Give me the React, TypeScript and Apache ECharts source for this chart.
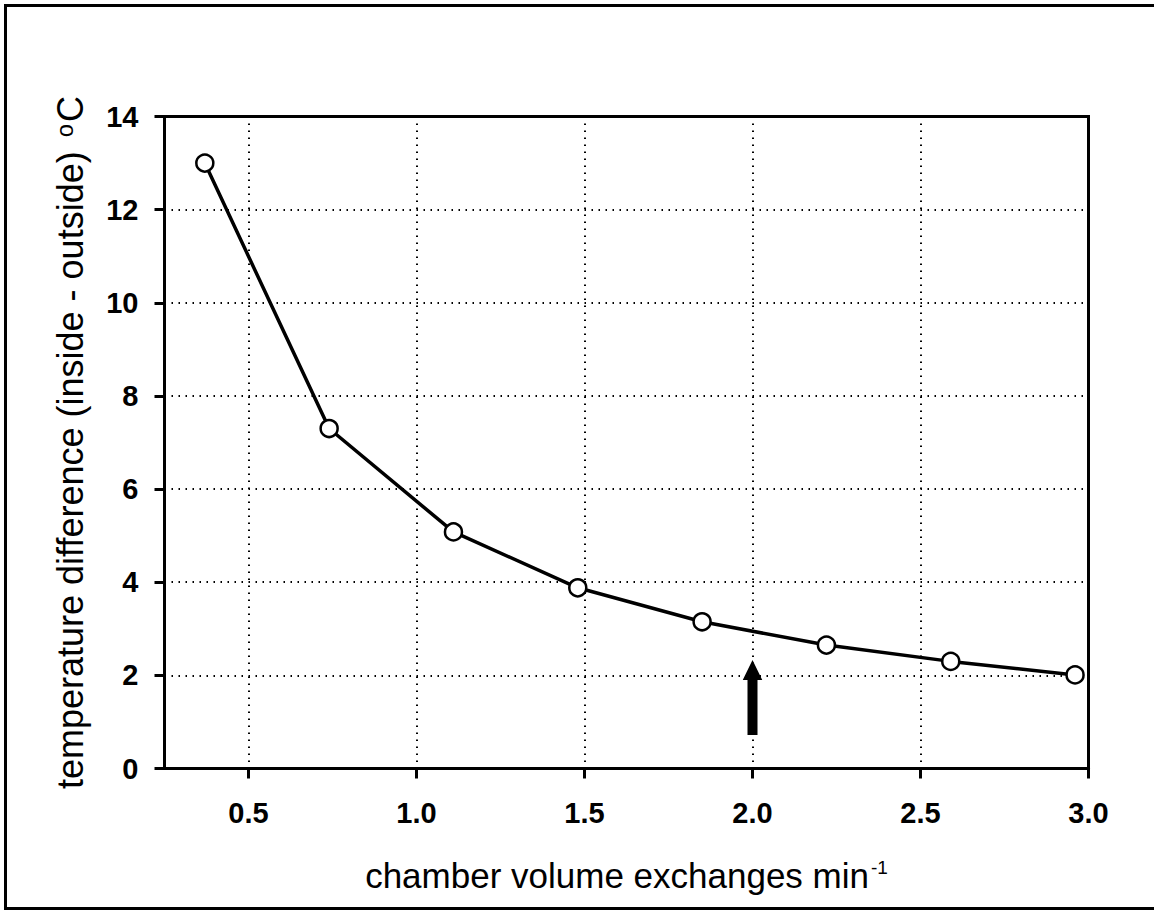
import React, { useEffect, useRef } from "react";
import * as echarts from "echarts";

const xValues = [0.37, 0.74, 1.11, 1.48, 1.85, 2.22, 2.59, 2.96];
const yValues = [13.0, 7.3, 5.08, 3.88, 3.15, 2.65, 2.3, 2.01];
const xTicks = [0.5, 1.0, 1.5, 2.0, 2.5, 3.0];
const yTicks = [0, 2, 4, 6, 8, 10, 12, 14];
// arrow: x position, base value, tip value
const arrowData = [[2.0, 0.72, 2.33]];

const FONT = "'Liberation Sans', Arial, Helvetica, sans-serif";

export default function App() {
  const ref = useRef<HTMLDivElement>(null);
  useEffect(() => {
    document.body.style.margin = "0";
    const chart = echarts.init(ref.current!, null, { renderer: "svg" });
    const option: any = {
      animation: false,
      backgroundColor: "#fff",
      grid: {
        left: 164.5,
        top: 116.5,
        width: 924,
        height: 652,
        show: true,
        borderColor: "#000",
        borderWidth: 3,
        containLabel: false,
      },
      graphic: [
        {
          type: "rect",
          shape: { x: 5.5, y: 5.5, width: 1170, height: 903 },
          style: { fill: "none", stroke: "#000", lineWidth: 3 },
          z: 100,
        },
      ],
      xAxis: {
        type: "value",
        min: 0.25,
        max: 3.0,
        name: "chamber volume exchanges min{sup|-1}",
        nameLocation: "middle",
        nameGap: 89,
        nameTextStyle: {
          fontSize: 35,
          fontFamily: FONT,
          color: "#000",
          rich: {
            sup: { fontSize: 19, fontFamily: FONT, color: "#000", verticalAlign: "top", padding: [0, 0, 0, 2] },
          },
        },
        axisLine: { show: true, lineStyle: { color: "#000", width: 3 } },
        axisTick: {
          show: true,
          inside: false,
          length: 10,
          customValues: xTicks,
          lineStyle: { color: "#000", width: 3 },
        },
        axisLabel: {
          customValues: xTicks,
          margin: 30,
          fontSize: 29,
          fontWeight: "bold",
          fontFamily: FONT,
          color: "#000",
          formatter: (v: number) => v.toFixed(1),
        },
        splitLine: {
          show: true,
          lineStyle: { color: "#000", width: 2, type: [1.5, 5.5] },
        },
      },
      yAxis: {
        type: "value",
        min: 0,
        max: 14,
        interval: 2,
        name: "temperature difference (inside - outside) {sup|o}C",
        nameLocation: "middle",
        nameGap: 76,
        nameTextStyle: {
          fontSize: 36,
          fontFamily: FONT,
          color: "#000",
          rich: {
            sup: { fontSize: 24, fontFamily: FONT, color: "#000", verticalAlign: "top", padding: [0, 2, 0, 4] },
          },
        },
        axisLine: { show: true, lineStyle: { color: "#000", width: 3 } },
        axisTick: {
          show: true,
          inside: false,
          length: 10,
          lineStyle: { color: "#000", width: 3 },
        },
        axisLabel: {
          margin: 26,
          fontSize: 29,
          fontWeight: "bold",
          fontFamily: FONT,
          color: "#000",
          formatter: (v: number) => (yTicks.includes(v) ? String(v) : ""),
        },
        splitLine: {
          show: true,
          lineStyle: { color: "#000", width: 2, type: [1.5, 5.5] },
        },
      },
      series: [
        {
          type: "line",
          data: xValues.map((x, i) => [x, yValues[i]]),
          symbol: "circle",
          symbolSize: 17,
          showAllSymbol: true,
          lineStyle: { color: "#000", width: 3.5 },
          itemStyle: { color: "#fff", borderColor: "#000", borderWidth: 2.5 },
          z: 5,
        },
        {
          type: "custom",
          data: arrowData,
          z: 4,
          clip: false,
          renderItem: (params: any, api: any) => {
            const x = api.value(0);
            const base = api.coord([x, api.value(1)]);
            const tip = api.coord([x, api.value(2)]);
            const cx = base[0];
            const headH = 20;
            const headW = 19.5;
            const shaftW = 10;
            const hb = tip[1] + headH;
            return {
              type: "polygon",
              shape: {
                points: [
                  [cx - shaftW / 2, base[1]],
                  [cx - shaftW / 2, hb],
                  [cx - headW / 2, hb],
                  [cx, tip[1]],
                  [cx + headW / 2, hb],
                  [cx + shaftW / 2, hb],
                  [cx + shaftW / 2, base[1]],
                ],
              },
              style: { fill: "#000", stroke: "none" },
            };
          },
        },
      ],
    };
    chart.setOption(option);
    return () => chart.dispose();
  }, []);
  return <div ref={ref} style={{ width: 1154, height: 910 }} />;
}
